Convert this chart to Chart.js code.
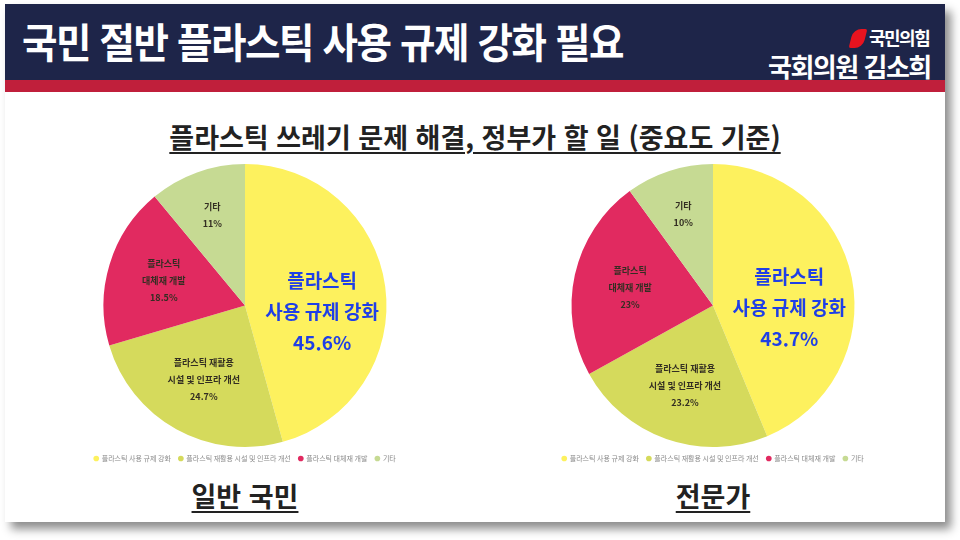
<!DOCTYPE html>
<html lang="ko">
<head>
<meta charset="utf-8">
<script src="https://cdn.jsdelivr.net/npm/chart.js@4.4.1/dist/chart.umd.min.js"></script>
<style>
  html, body { margin: 0; padding: 0; background: #fff; }
  body { width: 960px; height: 540px; position: relative; overflow: hidden;
         font-family: "Noto Sans CJK KR", "Noto Sans", sans-serif; }
  .slide { position: absolute; left: 5px; top: 4px; width: 940px; height: 518px; background: #fff;
           box-shadow: 6px 7px 9px rgba(0,0,0,0.45); }
  .head { position: absolute; left: 0; top: 0; width: 940px; height: 76px; background: #1e2549; }
  .band { position: absolute; left: 0; top: 76px; width: 940px; height: 12px; background: #c01f3b; }
  .title { position: absolute; left: 17px; top: 6px; color: #fff; font-weight: 700; font-size: 41px;
           letter-spacing: -1.5px; transform: scaleX(0.94); transform-origin: left top; white-space: nowrap; }
  .party { position: absolute; left: 864px; top: 20px; color: #fff; font-weight: 700; font-size: 18px;
           letter-spacing: -1.5px; white-space: nowrap; }
  .logo { position: absolute; left: 846px; top: 25px; width: 14px; height: 19px; background: #e8131f;
          border-radius: 8px 2px 8px 2px; transform: skewX(-14deg); }
  .member { position: absolute; left: 763px; top: 43px; color: #fff; font-weight: 700; font-size: 26px;
            letter-spacing: -1.5px; white-space: nowrap; }
  .sub { position: absolute; left: 0; width: 940px; top: 113px; text-align: center; font-weight: 700; font-size: 27px;
         color: #222; }
  .sub span, .grp span { text-decoration: underline; text-decoration-thickness: 2px; text-underline-offset: 4px; }
  .grp { position: absolute; top: 472px; width: 300px; text-align: center; font-weight: 700; font-size: 27px; color: #222; }
  canvas { position: absolute; }
</style>
</head>
<body>
<div class="slide">
  <div class="head"></div>
  <div class="band"></div>
  <div class="title">국민 절반 플라스틱 사용 규제 강화 필요</div>
  <div class="logo"></div>
  <div class="party">국민의힘</div>
  <div class="member">국회의원 김소희</div>
  <div class="sub"><span>플라스틱 쓰레기 문제 해결, 정부가 할 일 (중요도 기준)</span></div>
  <div class="grp" style="left:90px"><span>일반 국민</span></div>
  <div class="grp" style="left:558px"><span>전문가</span></div>
</div>
<canvas id="pieA" width="340" height="312" style="left:75px;top:160px"></canvas>
<canvas id="pieB" width="340" height="312" style="left:543px;top:160px"></canvas>
<script>
// ── Data ────────────────────────────────────────────────────────────────────
const categories = ['플라스틱 사용 규제 강화', '플라스틱 재활용 시설 및 인프라 개선', '플라스틱 대체재 개발', '기타'];
const sliceLines = [['플라스틱', '사용 규제 강화'], ['플라스틱 재활용', '시설 및 인프라 개선'], ['플라스틱', '대체재 개발'], ['기타']];
const publicValues = [45.6, 24.7, 18.5, 11];
const expertValues = [43.7, 23.2, 23, 10];
const colors = ['#fdf15e', '#d5da5c', '#e12a60', '#c6da93'];

// ── Labels inside slices ────────────────────────────────────────────────────
const labelDist = [0.55, 0.6, 0.6, 0.68];
const sliceLabels = {
    id: 'sliceLabels',
    afterDatasetsDraw(chart) {
        const ctx = chart.ctx;
        const vals = chart.data.datasets[0].data;
        chart.getDatasetMeta(0).data.forEach((arc, i) => {
            const mid = (arc.startAngle + arc.endAngle) / 2;
            const r = arc.outerRadius * labelDist[i];
            const x = arc.x + Math.cos(mid) * r;
            let y = arc.y + Math.sin(mid) * r;
            const lines = [...sliceLines[i], vals[i] + '%'];
            ctx.save();
            ctx.textAlign = 'center';
            ctx.textBaseline = 'middle';
            let lh;
            if (i === 0) {
                y += 17;
                ctx.fillStyle = '#1f3fe6';
                ctx.font = '700 19px "Noto Sans CJK KR", sans-serif';
                lh = 31;
            } else {
                ctx.fillStyle = '#332e22';
                ctx.font = '700 9px "Noto Sans CJK KR", sans-serif';
                lh = 17;
            }
            lines.forEach((t, k) => ctx.fillText(t, x, y + (k - (lines.length - 1) / 2) * lh));
            ctx.restore();
        });
    }
};

function buildPie(id, values) {
    new Chart(document.getElementById(id), {
        type: 'pie',
        data: {
            labels: categories,
            datasets: [{ data: values, backgroundColor: colors, borderWidth: 0 }]
        },
        options: {
            responsive: false,
            animation: false,
            layout: { padding: { top: 4 } },
            plugins: {
                tooltip: { enabled: false },
                legend: {
                    position: 'bottom',
                    labels: {
                        usePointStyle: true, pointStyle: 'circle', boxWidth: 4, boxHeight: 4,
                        padding: 8, color: '#8a8a8a', font: { size: 7, family: '"Noto Sans CJK KR", sans-serif' }
                    }
                }
            }
        },
        plugins: [sliceLabels]
    });
}

buildPie('pieA', publicValues);
buildPie('pieB', expertValues);
</script>
</body>
</html>
